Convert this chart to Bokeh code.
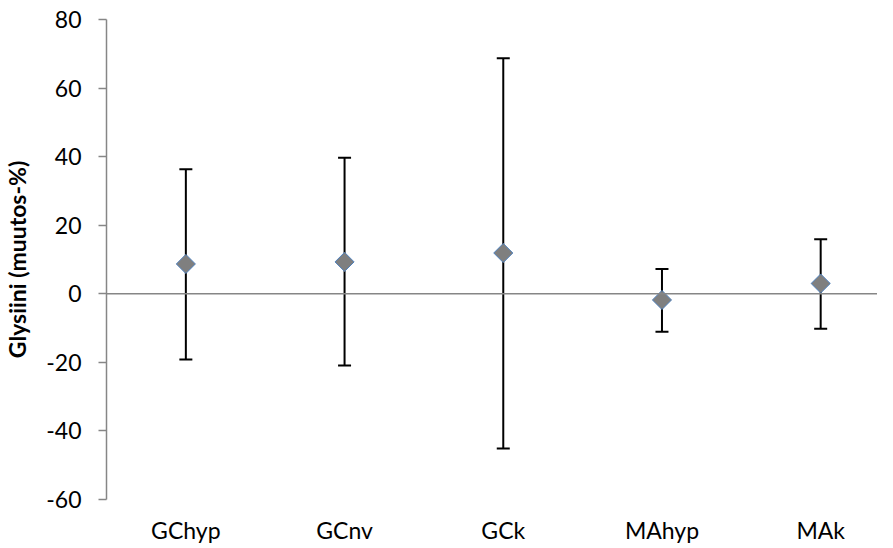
import numpy as np
from bokeh.plotting import figure
from bokeh.models import (ColumnDataSource, Range1d, FixedTicker, Whisker, TeeHead, Span)
from bokeh.embed import file_html
from bokeh.resources import INLINE

categories = ["GChyp", "GCnv", "GCk", "MAhyp", "MAk"]
means = [8.7, 9.3, 11.9, -1.8, 3.0]
upper = [36.3, 39.7, 68.7, 7.2, 15.9]
lower = [-19.2, -20.9, -45.1, -11.1, -10.2]
y_ticks = [-60, -40, -20, 0, 20, 40, 60, 80]
y_label = "Glysiini (muutos-%)"

FONT = "Lato"
xs = list(range(len(categories)))
src = ColumnDataSource(dict(x=xs, mean=means, upper=upper, lower=lower))

p = figure(width=877, height=546, output_backend="svg", toolbar_location=None,
           x_range=Range1d(-0.5, 4.358), y_range=Range1d(-60, 80),
           min_border_left=103, min_border_right=0, min_border_top=19, min_border_bottom=30)
p.outline_line_color = None
p.grid.visible = False
p.background_fill_color = "white"
p.border_fill_color = "white"

# y axis
ya = p.yaxis[0]
ya.ticker = FixedTicker(ticks=y_ticks)
ya.major_label_overrides = {t: str(t) for t in y_ticks}
ya.axis_line_color = "#868686"
ya.axis_line_width = 1.5
ya.major_tick_line_color = "#868686"
ya.major_tick_line_width = 1.5
ya.major_tick_in = 0
ya.major_tick_out = 8
ya.minor_tick_line_color = None
ya.major_label_text_font = FONT
ya.major_label_text_font_size = "23px"
ya.major_label_text_color = "black"
ya.major_label_standoff = 17
ya.axis_label = y_label
ya.axis_label_text_font = FONT
ya.axis_label_text_font_style = "bold"
ya.axis_label_text_font_size = "23px"
ya.axis_label_text_color = "black"
ya.axis_label_standoff = 12

# x axis (labels only)
xa = p.xaxis[0]
xa.ticker = FixedTicker(ticks=xs)
xa.major_label_overrides = {i: c for i, c in enumerate(categories)}
xa.axis_line_color = None
xa.major_tick_line_color = None
xa.minor_tick_line_color = None
xa.major_label_text_font = FONT
xa.major_label_text_font_size = "23px"
xa.major_label_text_color = "black"
xa.major_label_standoff = 10

# zero line
p.add_layout(Span(location=0, dimension="width", line_color="#868686", line_width=1.5))

# error bars
w = Whisker(base="x", upper="upper", lower="lower", source=src,
            line_color="black", line_width=2,
            upper_head=TeeHead(size=13, line_color="black", line_width=2),
            lower_head=TeeHead(size=13, line_color="black", line_width=2))
p.add_layout(w)

# markers
p.scatter("x", "mean", source=src, marker="square", angle=np.pi / 4, size=13.5,
          fill_color="#7f7f7f", line_color="#4f81bd", line_width=1)

open("out.html", "w").write(file_html(p, INLINE))
